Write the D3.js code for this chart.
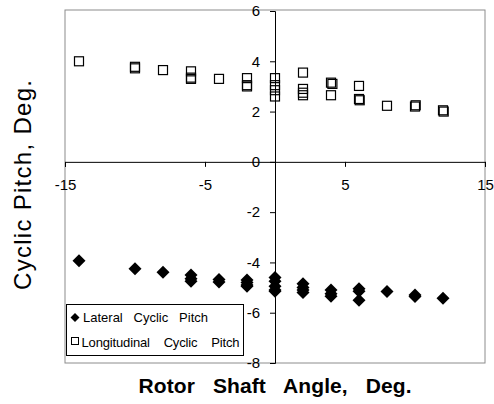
<!DOCTYPE html>
<html>
<head>
<meta charset="utf-8">
<script src="https://cdn.jsdelivr.net/npm/d3@7"></script>
<style>
  html, body { margin: 0; padding: 0; background: #fff; }
  svg { display: block; font-family: "Liberation Sans", Arial, sans-serif; }
  text { white-space: pre; }
</style>
</head>
<body>
<svg id="chart" width="494" height="404"></svg>
<script>
// ---- Data ----
const xTicks = [-15, -5, 5, 15];
const yTicks = [6, 4, 2, 0, -2, -4, -6, -8];

const lateralX = [-14, -10, -8, -6, -6, -6, -4, -4, -2, -2, -2, -2, 0, 0, 0, 0, 0, 2, 2, 2, 2, 4, 4, 4, 6, 6, 6, 8, 10, 10, 12];
const lateralY = [-3.93, -4.25, -4.39, -4.5, -4.65, -4.75, -4.68, -4.78, -4.7, -4.8, -4.9, -4.95, -4.6, -4.75, -4.95, -5.1, -5.15, -4.85, -5.0, -5.1, -5.2, -5.1, -5.25, -5.35, -5.05, -5.15, -5.5, -5.16, -5.3, -5.36, -5.42];

const longX = [-14, -10, -10, -8, -6, -6, -6, -4, -2, -2, -2, 0, 0, 0, 0, 2, 2, 2, 2, 4, 4.1, 4, 6, 6, 6.05, 8, 10, 10.05, 12, 12.05];
const longY = [4.0, 3.78, 3.72, 3.65, 3.6, 3.35, 3.3, 3.3, 3.33, 3.05, 3.0, 3.33, 3.05, 2.85, 2.6, 3.55, 2.9, 2.75, 2.65, 3.15, 3.1, 2.65, 3.02, 2.5, 2.45, 2.23, 2.2, 2.25, 2.05, 2.0];

const seriesNames = ["Lateral   Cyclic   Pitch", "Longitudinal    Cyclic    Pitch"];
const xTitle = "Rotor   Shaft   Angle,   Deg.";
const yTitle = "Cyclic Pitch, Deg.";

// ---- Layout ----
const svg = d3.select("#chart");
const x = d3.scaleLinear().domain([-15, 15]).range([65, 485]);
const y = d3.scaleLinear().domain([-8, 6]).range([363, 11]);

// plot area border
svg.append("rect")
  .attr("x", x(-15)).attr("y", y(6) - 1)
  .attr("width", x(15) - x(-15)).attr("height", y(-8) - y(6) + 1)
  .attr("fill", "#fff").attr("stroke", "#8c8c8c").attr("stroke-width", 1);

// x axis (at y=0)
const xAxis = d3.axisBottom(x).tickValues(xTicks).tickSize(5).tickFormat(d3.format("d"));
const gx = svg.append("g").attr("transform", `translate(0,${y(0)})`).call(xAxis);
gx.select(".domain").attr("stroke", "#000");
gx.selectAll(".tick line").attr("stroke", "#000");
gx.selectAll(".tick text").attr("font-size", 15).attr("fill", "#000")
  .attr("font-family", "Liberation Sans, Arial, sans-serif")
  .attr("y", 18).attr("dy", "0.71em").text(d => String(d));

// y axis (at x=0)
const yAxis = d3.axisLeft(y).tickValues(yTicks).tickSize(5).tickFormat(d3.format("d"));
const gy = svg.append("g").attr("transform", `translate(${x(0)},0)`).call(yAxis);
gy.select(".domain").attr("stroke", "#000");
gy.selectAll(".tick line").attr("stroke", "#000");
gy.selectAll(".tick text").attr("font-size", 15).attr("fill", "#000")
  .attr("font-family", "Liberation Sans, Arial, sans-serif")
  .attr("x", -15).text(d => String(d));

// longitudinal: hollow squares
const sq = 9;
svg.append("g").selectAll("rect")
  .data(d3.zip(longX, longY))
  .join("rect")
  .attr("x", d => x(d[0]) - sq / 2).attr("y", d => y(d[1]) - sq / 2)
  .attr("width", sq).attr("height", sq)
  .attr("fill", "none").attr("stroke", "#000").attr("stroke-width", 1.2);

// lateral: filled diamonds
const diamondPath = (r) => `M0,${-r}L${r},0L0,${r}L${-r},0Z`;
svg.append("g").selectAll("path")
  .data(d3.zip(lateralX, lateralY))
  .join("path")
  .attr("transform", d => `translate(${x(d[0])},${y(d[1])})`)
  .attr("d", diamondPath(6.5))
  .attr("fill", "#000");

// legend
const lg = svg.append("g");
lg.append("rect").attr("x", 66.5).attr("y", 304.5).attr("width", 177).attr("height", 51)
  .attr("fill", "#fff").attr("stroke", "#000").attr("stroke-width", 1);
lg.append("path").attr("transform", "translate(75,317.5)").attr("d", diamondPath(4.5)).attr("fill", "#000");
lg.append("rect").attr("x", 71.5).attr("y", 337.5).attr("width", 7).attr("height", 7)
  .attr("fill", "none").attr("stroke", "#000").attr("stroke-width", 1);
lg.append("text").attr("x", 83).attr("y", 322).attr("font-size", 13).text(seriesNames[0]);
lg.append("text").attr("x", 81.5).attr("y", 346.5).attr("font-size", 13)
  .attr("textLength", 158).attr("lengthAdjust", "spacing").text(seriesNames[1]);

// axis titles
svg.append("text").attr("x", 275).attr("y", 393).attr("text-anchor", "middle")
  .attr("font-size", 21).attr("font-weight", "bold")
  .attr("textLength", 273).attr("lengthAdjust", "spacing").text(xTitle);
svg.append("text")
  .attr("transform", "translate(31,185) rotate(-90)")
  .attr("text-anchor", "middle").attr("font-size", 24)
  .attr("textLength", 210).attr("lengthAdjust", "spacing")
  .text(yTitle);
</script>
</body>
</html>
